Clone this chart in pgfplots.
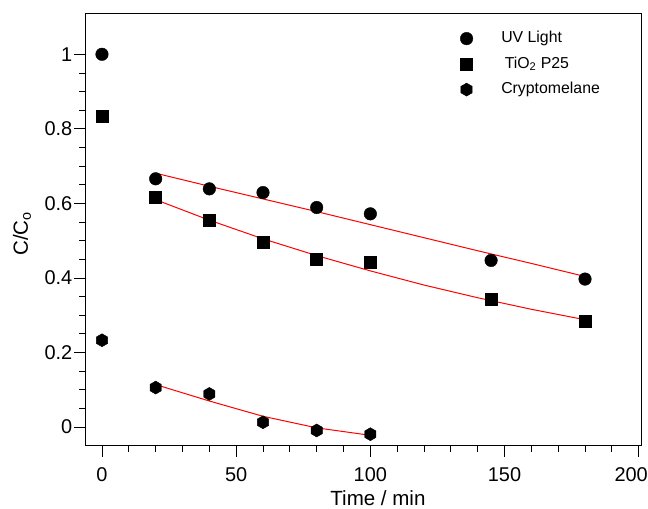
\documentclass[border=0pt]{standalone}
\usepackage{fontspec}
\setmainfont{Liberation Sans}
\usepackage{pgfplots}
\pgfplotsset{compat=1.18}
\pgfdeclareplotmark{hexagon*}{%
  \pgfpathmoveto{\pgfqpointpolar{90}{\pgfplotmarksize}}%
  \pgfpathlineto{\pgfqpointpolar{150}{\pgfplotmarksize}}%
  \pgfpathlineto{\pgfqpointpolar{210}{\pgfplotmarksize}}%
  \pgfpathlineto{\pgfqpointpolar{270}{\pgfplotmarksize}}%
  \pgfpathlineto{\pgfqpointpolar{330}{\pgfplotmarksize}}%
  \pgfpathlineto{\pgfqpointpolar{30}{\pgfplotmarksize}}%
  \pgfpathclose
  \pgfusepathqfillstroke}
\begin{document}
\begin{tikzpicture}
\begin{axis}[
  scale only axis, width=555bp, height=431bp,
  xmin=-5.96, xmax=200.86, ymin=-0.048, ymax=1.108,
  xtick={0,50,100,150,200}, minor x tick num=4,
  xticklabels={0,50,100,150,{\hspace*{-15bp}200}},
  ytick={0,0.2,0.4,0.6,0.8,1}, minor y tick num=3,
  tick pos=left, tick align=outside,
  major tick length=11.5bp, minor tick length=6.5bp,
  every tick/.style={black, line width=0.8bp},
  axis line style={line width=1bp},
  /pgf/number format/assume math mode=true,
  ticklabel style={font=\fontsize{20}{20}\selectfont},
  xticklabel style={inner sep=0pt, yshift=-11bp},
  yticklabel style={inner sep=0pt, xshift=-2bp},
  xlabel={Time / min},
  ylabel={C/C\textsubscript{o}},
  xlabel style={font=\fontsize{20.6}{20.6}\selectfont, at={(axis description cs:0.526,0)}, anchor=base, yshift=-60bp},
  ylabel style={font=\fontsize{20.6}{20.6}\selectfont, at={(axis description cs:-0.1153,0.49)}, anchor=center},
  legend style={draw=none, fill=none, at={(axis description cs:0.667,0.977)}, anchor=north west,
    font=\fontsize{15.9}{15.9}\selectfont,
    nodes={text height=11.5bp, text depth=3.5bp, inner sep=5bp},
    row sep=0.5bp},
  legend cell align=left,
  legend image code/.code={\path (-7bp,0bp) (29.5bp,0bp); \draw[#1] plot coordinates {(0bp,0bp)};},
]
\addplot[only marks, mark=*, mark size=6.3bp, black] coordinates {
  (0,1.0) (20,0.666) (40,0.639) (60,0.629) (80,0.589) (100,0.572) (145,0.447) (180,0.397)};
\addlegendentry{UV Light}
\addplot[only marks, mark=square*, mark size=6bp, black] coordinates {
  (0,0.833) (20,0.616) (40,0.556) (60,0.496) (80,0.451) (100,0.441) (145,0.342) (180,0.285)};
\addlegendentry{\hspace*{3.5bp}TiO\textsubscript{2} P25}
\addplot[only marks, mark=hexagon*, mark size=6.5bp, black] coordinates {
  (0,0.233) (20,0.106) (40,0.089) (60,0.013) (80,-0.009) (100,-0.019)};
\addlegendentry{Cryptomelane}
\addplot[red, line width=1bp, forget plot] coordinates {
  (20,0.681) (40,0.646) (60,0.612) (80,0.578) (100,0.543) (120,0.508) (140,0.473) (160,0.439) (180,0.404)};
\addplot[red, line width=1bp, forget plot] coordinates {
  (20,0.610) (40,0.555) (60,0.505) (80,0.460) (100,0.419) (120,0.381) (140,0.347) (160,0.316) (180,0.288)};
\addplot[red, line width=1bp, forget plot] coordinates {
  (20,0.114) (40,0.070) (60,0.029) (80,-0.002) (100,-0.022)};
\end{axis}
\pgfresetboundingbox
\path ([shift={(-86bp,-64bp)}]current axis.south west) rectangle ([shift={(562bp,445bp)}]current axis.south west);
\end{tikzpicture}
\end{document}
